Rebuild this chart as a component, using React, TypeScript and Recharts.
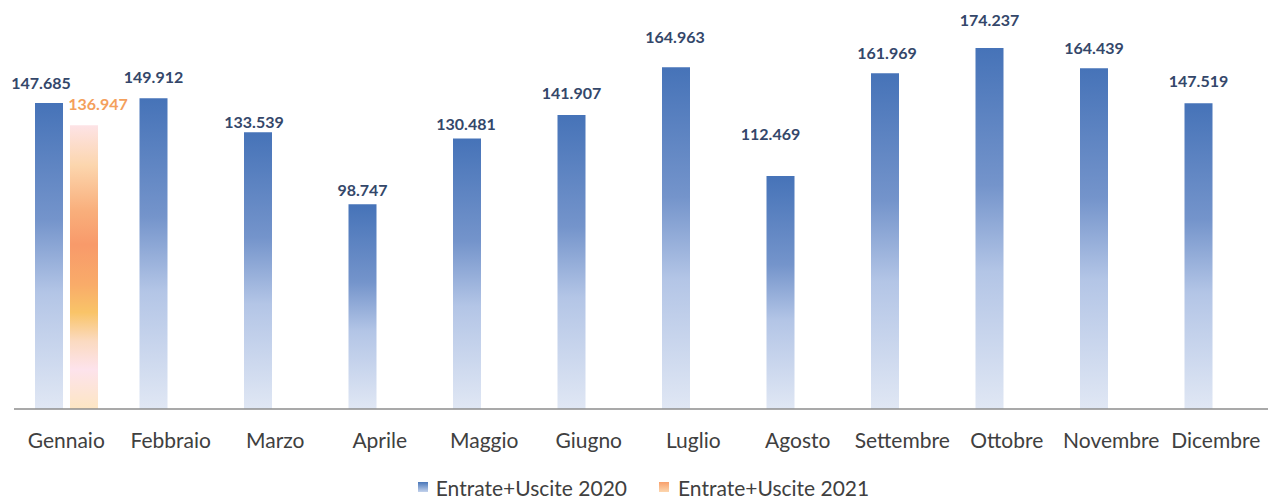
import React from 'react';
import { BarChart, Bar, XAxis, YAxis, Legend, LabelList } from 'recharts';

const months = ['Gennaio', 'Febbraio', 'Marzo', 'Aprile', 'Maggio', 'Giugno', 'Luglio', 'Agosto', 'Settembre', 'Ottobre', 'Novembre', 'Dicembre'];
const values2020 = [147685, 149912, 133539, 98747, 130481, 141907, 164963, 112469, 161969, 174237, 164439, 147519];
const values2021: (number | null)[] = [136947, null, null, null, null, null, null, null, null, null, null, null];

const SERIES_2020 = 'Entrate+Uscite 2020';
const SERIES_2021 = 'Entrate+Uscite 2021';

// labels were hand-placed in the original, so nudge them a bit
const labelGap = [14, 15, 4, 8, 9, 16, 24, 36, 14, 22, 14, 16];
const labelDx = [-8, 0, -4, 0, -1, 0, -1, -10, 2, 0, 0, 0];

const data = months.map((m, i) => ({
  month: m,
  [SERIES_2020]: values2020[i],
  [SERIES_2021]: values2021[i],
}));

const FONT = 'Lato, "Open Sans", sans-serif';

const fmt = (v: number) => String(v).replace(/\B(?=(\d{3})+(?!\d))/g, '.');

const BlueLabel = (props: any) => {
  const { x, y, width, value, index } = props;
  if (value == null) return null;
  return (
    <text
      x={x + width / 2 + labelDx[index]}
      y={y - labelGap[index]}
      textAnchor="middle"
      fill="#34476a"
      fontSize={16}
      fontWeight={700}
      fontFamily={FONT}
    >
      {fmt(value)}
    </text>
  );
};

const OrangeLabel = (props: any) => {
  const { x, y, width, value } = props;
  if (value == null) return null;
  return (
    <text
      x={x + width / 2 + 14}
      y={y - 15}
      textAnchor="middle"
      fill="#f4a05c"
      fontSize={16}
      fontWeight={700}
      fontFamily={FONT}
    >
      {fmt(value)}
    </text>
  );
};

const LegendBox = () => (
  <div
    style={{
      display: 'flex',
      justifyContent: 'center',
      alignItems: 'center',
      height: 22,
      fontFamily: FONT,
      fontSize: 21,
      color: '#404040',
      paddingLeft: 14,
    }}
  >
    <span style={{ display: 'inline-block', width: 10, height: 10, background: 'linear-gradient(#4a77b9, #c3d2ec)', marginRight: 8 }} />
    <span style={{ marginRight: 32 }}>{SERIES_2020}</span>
    <span style={{ display: 'inline-block', width: 10, height: 10, background: 'linear-gradient(#f8a06c, #fcd6ae)', marginRight: 9 }} />
    <span>{SERIES_2021}</span>
  </div>
);

const App = () => {
  return (
    <div style={{ position: 'absolute', left: 0, top: 0, background: '#fff' }}>
      <BarChart
        width={1273}
        height={498}
        data={data}
        margin={{ top: 36, right: 5, left: 14, bottom: 37 }}
        barSize={28}
        barGap={7}
      >
        <defs>
          <linearGradient id="gBlue" x1="0" y1="0" x2="0" y2="1">
            <stop offset="0%" stopColor="#4673b8" />
            <stop offset="38%" stopColor="#7494cb" />
            <stop offset="62%" stopColor="#b3c5e6" />
            <stop offset="100%" stopColor="#e0e7f4" />
          </linearGradient>
          <linearGradient id="gOrange" x1="0" y1="0" x2="0" y2="1">
            <stop offset="0%" stopColor="#fde3e6" />
            <stop offset="14%" stopColor="#fcd6ae" />
            <stop offset="30%" stopColor="#f9af7c" />
            <stop offset="42%" stopColor="#f89a6a" />
            <stop offset="56%" stopColor="#f9ab69" />
            <stop offset="66%" stopColor="#f9c468" />
            <stop offset="76%" stopColor="#fbdac0" />
            <stop offset="86%" stopColor="#fde3ec" />
            <stop offset="100%" stopColor="#fde6c3" />
          </linearGradient>
        </defs>
        <XAxis
          dataKey="month"
          height={30}
          tickLine={false}
          tickSize={0}
          tickMargin={24}
          axisLine={{ stroke: '#8c8c8c', strokeWidth: 1.5 }}
          tick={{ fill: '#404040', fontSize: 21, fontFamily: FONT }}
          interval={0}
        />
        <YAxis hide domain={[0, 180000]} />
        <Legend
          verticalAlign="bottom"
          content={<LegendBox />}
          wrapperStyle={{ bottom: 0, left: 0, width: 1273, height: 22 }}
        />
        <Bar dataKey={SERIES_2020} fill="url(#gBlue)" isAnimationActive={false}>
          <LabelList dataKey={SERIES_2020} content={<BlueLabel />} />
        </Bar>
        <Bar dataKey={SERIES_2021} fill="url(#gOrange)" isAnimationActive={false}>
          <LabelList dataKey={SERIES_2021} content={<OrangeLabel />} />
        </Bar>
      </BarChart>
    </div>
  );
};

export default App;
